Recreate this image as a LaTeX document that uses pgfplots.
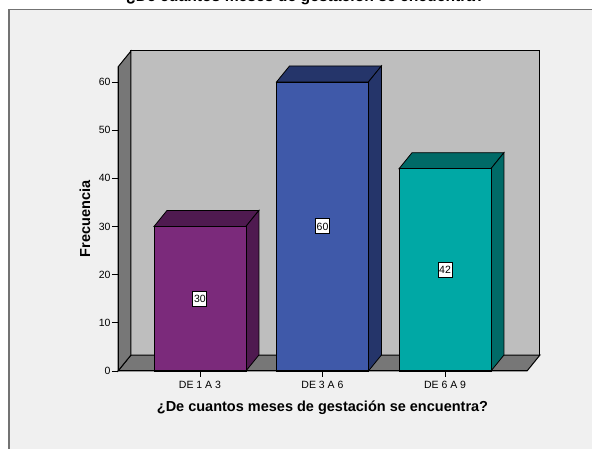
\documentclass[border=0pt]{standalone}
\usepackage{pgfplots}
\pgfplotsset{compat=1.18}
\usepackage{fontspec}
\setmainfont{Liberation Sans}
\definecolor{bgc}{HTML}{F0F0F0}
\definecolor{wall}{HTML}{BEBEBE}
\definecolor{floorc}{HTML}{777777}
\definecolor{purp}{HTML}{7B2A7B}
\definecolor{purpd}{HTML}{4F1A50}
\definecolor{blu}{HTML}{3F59A9}
\definecolor{blud}{HTML}{25356A}
\definecolor{teal2}{HTML}{00A8A5}
\definecolor{teald}{HTML}{006A67}
\begin{document}
\begin{tikzpicture}[x=1pt,y=1pt]
\clip (0,0) rectangle (592,449);
\fill[white] (0,0) rectangle (592,449);
\fill[bgc] (9,-2) rectangle (594,439.5);
\draw[black!55,line width=1.2pt] (9,-2) -- (9,439.5) -- (594,439.5);
\begin{axis}[
    at={(118pt,78pt)},
    anchor=south west,
    scale only axis,
    width=409pt,
    height=304pt,
    xmin=-0.669, xmax=2.669,
    ymin=0, ymax=63.1,
    clip=false,
    axis on top,
    axis lines=left,
    axis line style={-,black,line width=1pt},
    tick style={black,line width=0.8pt},
    tick align=outside,
    major tick length=6pt,
    xtick={0,1,2},
    xticklabels={DE 1 A 3,DE 3 A 6,DE 6 A 9},
    ytick={0,10,20,30,40,50,60},
    tick label style={font=\fontsize{10.5}{12}\selectfont},
    xticklabel style={yshift=-1pt},
    yticklabel style={xshift=2pt},
    /pgf/number format/assume math mode=true,
    xlabel={¿De cuantos meses de gestación se encuentra?},
    xlabel style={font=\fontsize{14.5}{16}\selectfont\bfseries,at={(axis description cs:0.5,0)},anchor=base,yshift=-41pt},
    ylabel={Frecuencia},
    ylabel style={font=\fontsize{14.5}{16}\selectfont\bfseries,at={(axis description cs:0,0.5)},anchor=base,rotate=0,yshift=28pt},
    title={¿De cuantos meses de gestación se encuentra?},
    title style={font=\fontsize{15.7}{18}\selectfont\bfseries,at={(axis description cs:0.5,1)},anchor=base,yshift=59.5pt,xshift=-17pt},
]
% walls and floor
\addplot[fill=wall,draw=black,line width=1pt] coordinates {(-0.563,3.32)(2.775,3.32)(2.775,66.42)(-0.563,66.42)} --cycle;
\addplot[fill=floorc,draw=black,line width=1pt] coordinates {(-0.669,0)(-0.563,3.32)(2.775,3.32)(2.669,0)} --cycle;
\addplot[fill=floorc,draw=black,line width=1pt] coordinates {(-0.669,0)(-0.563,3.32)(-0.563,66.42)(-0.669,63.1)} --cycle;
% bar 1, 30
\addplot[fill=purpd,draw=black,line width=0.8pt] coordinates {(-0.375,30)(-0.269,33.32)(0.481,33.32)(0.375,30)} --cycle;
\addplot[fill=purpd,draw=black,line width=0.8pt] coordinates {(0.375,0)(0.481,3.32)(0.481,33.32)(0.375,30)} --cycle;
\addplot[ybar,bar width=92pt,bar shift=0pt,fill=purp,draw=black,line width=0.8pt] coordinates {(0,30)};
% bar 2, 60
\addplot[fill=blud,draw=black,line width=0.8pt] coordinates {(0.625,60)(0.731,63.32)(1.481,63.32)(1.375,60)} --cycle;
\addplot[fill=blud,draw=black,line width=0.8pt] coordinates {(1.375,0)(1.481,3.32)(1.481,63.32)(1.375,60)} --cycle;
\addplot[ybar,bar width=92pt,bar shift=0pt,fill=blu,draw=black,line width=0.8pt] coordinates {(1,60)};
% bar 3, 42
\addplot[fill=teald,draw=black,line width=0.8pt] coordinates {(1.625,42)(1.731,45.32)(2.481,45.32)(2.375,42)} --cycle;
\addplot[fill=teald,draw=black,line width=0.8pt] coordinates {(2.375,0)(2.481,3.32)(2.481,45.32)(2.375,42)} --cycle;
\addplot[ybar,bar width=92pt,bar shift=0pt,fill=teal2,draw=black,line width=0.8pt] coordinates {(2,42)};
% value labels
\addplot[only marks,mark=none,point meta=explicit symbolic,
    nodes near coords,
    every node near coord/.append style={anchor=center,draw=black,fill=white,font=\fontsize{10.5}{12}\selectfont,inner sep=0pt,minimum width=14pt,minimum height=15pt,line width=1pt}]
    coordinates {(0,15)[30] (1,30)[60] (2,21)[42]};
\end{axis}
\end{tikzpicture}
\end{document}
